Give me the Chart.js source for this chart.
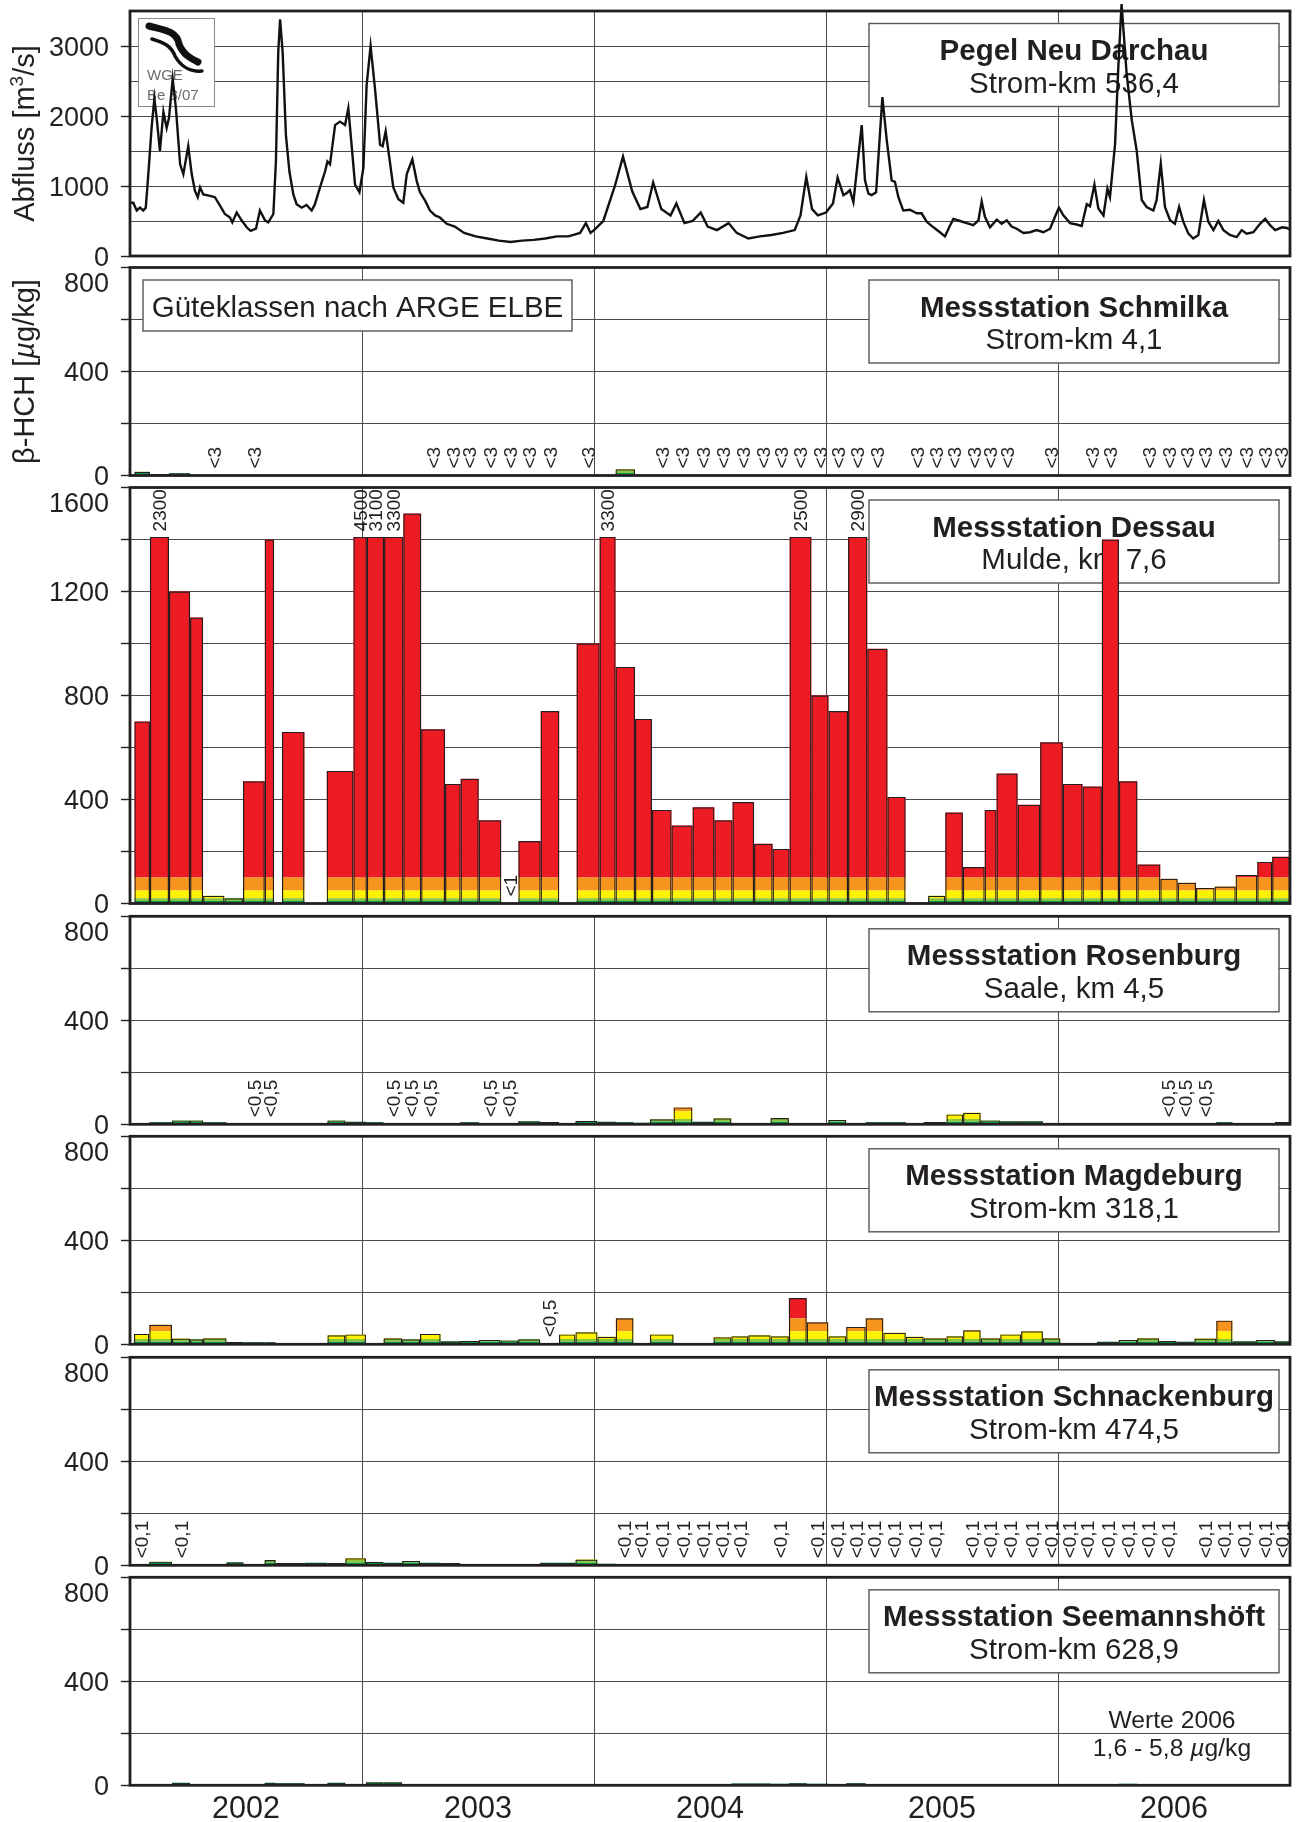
<!DOCTYPE html>
<html>
<head>
<meta charset="utf-8">
<script src="https://cdn.jsdelivr.net/npm/chart.js@4.4.1/dist/chart.umd.min.js"></script>
<style>
  html, body { margin: 0; padding: 0; background: #fff; }
  #wrap { position: relative; width: 1300px; height: 1822px; overflow: hidden; background: #fff; }
  #wrap canvas { position: absolute; left: 0; }
</style>
</head>
<body>
<div id="wrap"></div>
<script>
// discharge Neu Darchau, m3/s
const flowYears = [
  2002.000, 2002.014, 2002.029, 2002.043, 2002.057, 2002.068, 2002.079, 2002.093, 2002.105, 2002.115,
  2002.129, 2002.144, 2002.158, 2002.168, 2002.184, 2002.198, 2002.216, 2002.230, 2002.251, 2002.266,
  2002.280, 2002.292, 2002.302, 2002.316, 2002.345, 2002.366, 2002.388, 2002.409, 2002.431, 2002.441,
  2002.460, 2002.481, 2002.503, 2002.520, 2002.543, 2002.560, 2002.582, 2002.596, 2002.618, 2002.629,
  2002.639, 2002.647, 2002.658, 2002.672, 2002.687, 2002.704, 2002.718, 2002.740, 2002.761, 2002.783,
  2002.797, 2002.819, 2002.841, 2002.851, 2002.862, 2002.884, 2002.905, 2002.927, 2002.941, 2002.955,
  2002.970, 2002.989, 2003.006, 2003.020, 2003.037, 2003.056, 2003.078, 2003.089, 2003.102, 2003.118,
  2003.135, 2003.157, 2003.178, 2003.193, 2003.217, 2003.236, 2003.250, 2003.272, 2003.293, 2003.315,
  2003.336, 2003.365, 2003.400, 2003.440, 2003.490, 2003.540, 2003.590, 2003.640, 2003.690, 2003.740,
  2003.790, 2003.840, 2003.890, 2003.940, 2003.965, 2003.985, 2004.000, 2004.040, 2004.090, 2004.125,
  2004.165, 2004.200, 2004.230, 2004.255, 2004.290, 2004.330, 2004.355, 2004.390, 2004.425, 2004.460,
  2004.490, 2004.530, 2004.580, 2004.615, 2004.665, 2004.715, 2004.765, 2004.815, 2004.865, 2004.890,
  2004.915, 2004.940, 2004.965, 2005.000, 2005.030, 2005.050, 2005.075, 2005.090, 2005.103, 2005.118,
  2005.154, 2005.168, 2005.183, 2005.197, 2005.216, 2005.243, 2005.262, 2005.283, 2005.297, 2005.312,
  2005.333, 2005.362, 2005.391, 2005.412, 2005.434, 2005.463, 2005.491, 2005.513, 2005.531, 2005.549,
  2005.578, 2005.606, 2005.635, 2005.657, 2005.671, 2005.685, 2005.707, 2005.736, 2005.757, 2005.779,
  2005.800, 2005.822, 2005.851, 2005.879, 2005.908, 2005.937, 2005.966, 2005.987, 2006.004, 2006.023,
  2006.052, 2006.080, 2006.102, 2006.124, 2006.138, 2006.157, 2006.174, 2006.196, 2006.213, 2006.224,
  2006.246, 2006.260, 2006.274, 2006.296, 2006.318, 2006.339, 2006.361, 2006.382, 2006.411, 2006.425,
  2006.443, 2006.461, 2006.483, 2006.504, 2006.522, 2006.540, 2006.562, 2006.583, 2006.605, 2006.629,
  2006.648, 2006.670, 2006.691, 2006.713, 2006.741, 2006.770, 2006.792, 2006.813, 2006.842, 2006.871,
  2006.893, 2006.914, 2006.936, 2006.966, 2006.987, 2006.999
];
const flowValues = [
  760, 760, 650, 690, 650, 690, 1170, 1830, 2250, 1970,
  1500, 2060, 1830, 1970, 2530, 2110, 1310, 1170, 1570, 1170,
  930, 840, 980, 880, 860, 840, 720, 600, 550, 480,
  620, 510, 410, 360, 390, 650, 510, 480, 600, 1350,
  2910, 3380, 2910, 1730, 1210, 880, 740, 690, 730, 650,
  740, 980, 1210, 1350, 1310, 1870, 1920, 1870, 2110, 1590,
  1020, 910, 1260, 2440, 3000, 2390, 1590, 1570, 1780, 1400,
  980, 810, 760, 1170, 1380, 1070, 910, 790, 650, 580,
  550, 460, 420, 330, 280, 250, 220, 200, 220, 230,
  250, 280, 280, 330, 470, 330, 370, 500, 1000, 1420,
  920, 670, 700, 1050, 670, 580, 750, 470, 500, 620,
  420, 370, 470, 330, 250, 280, 300, 330, 370, 580,
  1130, 670, 580, 620, 750, 1120, 870, 900, 940, 770,
  1870, 1080, 890, 870, 910, 2270, 1650, 1080, 1060, 840,
  650, 660, 610, 610, 490, 410, 340, 280, 410, 530,
  500, 470, 440, 510, 780, 560, 410, 520, 460, 510,
  420, 390, 330, 340, 370, 340, 390, 560, 690, 580,
  470, 450, 430, 740, 710, 1020, 680, 580, 960, 840,
  1600, 2700, 3600, 2600, 1940, 1510, 800, 700, 650, 800,
  1320, 700, 510, 460, 700, 490, 320, 250, 300, 800,
  490, 370, 500, 370, 300, 270, 370, 320, 340, 460,
  530, 440, 370, 410, 400, 380
];

// Guteklassen nach ARGE ELBE for beta-HCH (ug/kg): class limits and colours I ... IV
const classLimits = [2, 5, 10, 20, 50, 100];
const classColors = ['#0a6fb5', '#0e7a83', '#009a49', '#8cc63e', '#fff200', '#f7941d', '#ed1c24'];

// sampling periods (decimal years), Schmilka + Dessau
const edgesA = [
  2002.019, 2002.086, 2002.168, 2002.259, 2002.315, 2002.407, 2002.487, 2002.581, 2002.621, 2002.655,
  2002.752, 2002.848, 2002.963, 2003.021, 2003.095, 2003.178, 2003.255, 2003.358, 2003.425, 2003.503,
  2003.600, 2003.674, 2003.770, 2003.850, 2003.925, 2004.024, 2004.093, 2004.177, 2004.250, 2004.334,
  2004.425, 2004.519, 2004.597, 2004.690, 2004.770, 2004.843, 2004.937, 2005.011, 2005.095, 2005.178,
  2005.265, 2005.343, 2005.440, 2005.514, 2005.590, 2005.684, 2005.735, 2005.826, 2005.923, 2006.021,
  2006.106, 2006.189, 2006.263, 2006.342, 2006.441, 2006.516, 2006.595, 2006.675, 2006.766, 2006.859,
  2006.923, 2007.000
];
// sampling periods, Rosenburg, Magdeburg, Schnackenburg, Seemannshoeft
const edgesB = [
  2002.017, 2002.083, 2002.181, 2002.259, 2002.315, 2002.416, 2002.489, 2002.580, 2002.628, 2002.753,
  2002.851, 2002.928, 2003.017, 2003.093, 2003.173, 2003.250, 2003.339, 2003.423, 2003.504, 2003.597,
  2003.673, 2003.768, 2003.849, 2003.920, 2004.015, 2004.094, 2004.170, 2004.241, 2004.343, 2004.424,
  2004.515, 2004.592, 2004.665, 2004.761, 2004.840, 2004.917, 2005.010, 2005.087, 2005.171, 2005.247,
  2005.344, 2005.421, 2005.519, 2005.591, 2005.667, 2005.751, 2005.841, 2005.935, 2006.010, 2006.086,
  2006.168, 2006.261, 2006.341, 2006.436, 2006.511, 2006.588, 2006.682, 2006.752, 2006.854, 2006.935,
  2007.000
];

// beta-HCH, ug/kg per period; text = below detection limit, null = no sample
const schmilka = [
  14, 5, 9, 2, '<3', 2, '<3', null, null, null,
  null, null, null, null, null, null, '<3', '<3', '<3', '<3',
  '<3', '<3', '<3', null, '<3', null, 24, null, '<3', '<3',
  '<3', '<3', '<3', '<3', '<3', '<3', '<3', '<3', '<3', '<3',
  null, '<3', '<3', '<3', '<3', '<3', '<3', null, '<3', null,
  '<3', '<3', null, '<3', '<3', '<3', '<3', '<3', '<3', '<3', '<3'
];
const dessau = [
  700, 2300, 1200, 1100, 30, 20, 470, 1400, null, 660,
  null, 510, 4500, 3100, 3300, 1500, 670, 460, 480, 320,
  '<1', 240, 740, null, 1000, 3300, 910, 710, 360, 300,
  370, 320, 390, 230, 210, 2500, 800, 740, 2900, 980,
  410, 3, 30, 350, 140, 360, 500, 380, 620, 460,
  450, 1400, 470, 150, 95, 80, 60, 65, 110, 160,
  180
];
const rosenburg = [
  2, 8, 15, 15, 8, 2, '<0,5', '<0,5', 1, 1,
  15, 10, 8, '<0,5', '<0,5', '<0,5', 4, 8, '<0,5', '<0,5',
  12, 9, 3, 13, 10, 8, 6, 19, 65, 10,
  23, 1, 1, 24, 1, 1, 17, 4, 8, 8,
  1, 9, 38, 44, 15, 12, 12, 5, 1, 1,
  null, null, null, '<0,5', '<0,5', '<0,5', 8, 5, 5, 9
];
const magdeburg = [
  40, 75, 22, 19, 23, 9, 8, 8, 3, 4,
  35, 38, 5, 23, 19, 40, 12, 13, 17, 15,
  19, '<0,5', 38, 46, 29, 100, 4, 38, null, null,
  27, 31, 35, 31, 178, 85, 31, 67, 100, 44,
  29, 23, 31, 54, 23, 38, 50, 23, null, null,
  10, 17, 23, 13, 10, 22, 91, 12, 17, 12
];
const schnackenburg = [
  '<0,1', 14, '<0,1', 5, 5, 12, 2, 20, 9, 10,
  9, 27, 13, 10, 17, 10, 9, null, null, null,
  1, 10, 10, 22, 6, '<0,1', '<0,1', '<0,1', '<0,1', '<0,1',
  '<0,1', '<0,1', null, '<0,1', null, '<0,1', '<0,1', '<0,1', '<0,1', '<0,1',
  '<0,1', '<0,1', null, '<0,1', '<0,1', '<0,1', '<0,1', '<0,1', '<0,1', '<0,1',
  '<0,1', '<0,1', '<0,1', '<0,1', null, '<0,1', '<0,1', '<0,1', '<0,1', '<0,1'
];
const seemannshoeft = [
  null, null, 10, null, null, null, null, 10, 8, null,
  10, null, 12, 12, null, null, null, null, null, null,
  null, null, null, null, null, null, null, null, null, null,
  5, 7, 7, 6, 8, 6, null, 8, null, null,
  4, 4, null, null, null, null, null, null, null, null,
  4, 6, null, null, null, null, null, null, null, null
];

const yearLabels = ['2002', '2003', '2004', '2005', '2006'];

const FONT = '"Liberation Sans", Arial, Helvetica, sans-serif';
const INK = '#231f20';
const LEFT = 130, RIGHT = 1290;

// panel frames on the page (pixels)
const layout = [
  {top: 11, bottom: 256},
  {top: 267.5, bottom: 475.5},
  {top: 487.5, bottom: 903.5},
  {top: 916.3, bottom: 1124.3},
  {top: 1136.3, bottom: 1344.3},
  {top: 1357.3, bottom: 1565.3},
  {top: 1577.3, bottom: 1785.3}
];

// bars spanning a sample period, drawn through the x scale
class SpanBar extends Chart.BarController {
  _calculateBarIndexPixels(index) {
    const raw = this.getDataset().data[index];
    const sc = this._cachedMeta.iScale;
    const base = sc.getPixelForValue(raw.x0);
    const head = sc.getPixelForValue(raw.x1);
    return {base, head, center: (base + head) / 2, size: head - base};
  }
}
SpanBar.id = 'spanbar';
SpanBar.defaults = Chart.BarController.defaults;
Chart.register(SpanBar);

function richText(ctx, parts, x, y) {
  let total = 0;
  for (const p of parts) { ctx.font = p[1]; total += ctx.measureText(p[0]).width; }
  let cx = x - total / 2;
  ctx.textAlign = 'left';
  for (const p of parts) {
    ctx.font = p[1];
    ctx.fillText(p[0], cx, y + (p[2] || 0));
    cx += ctx.measureText(p[0]).width;
  }
}

function drawLogo(ctx, a) {
  const x = 138, y = a.top + 7;
  ctx.fillStyle = '#fff';
  ctx.fillRect(x, y, 76, 88);
  ctx.strokeStyle = '#8a8a8a'; ctx.lineWidth = 1;
  ctx.strokeRect(x + 0.5, y + 0.5, 76, 88);
  ctx.strokeStyle = '#111'; ctx.lineCap = 'round';
  ctx.lineWidth = 7;
  ctx.beginPath();
  ctx.moveTo(149, y + 8);
  ctx.bezierCurveTo(164, y + 12, 177, y + 13, 179, y + 26);
  ctx.bezierCurveTo(183, y + 37, 192, y + 41, 198, y + 44);
  ctx.stroke();
  ctx.lineWidth = 3.5;
  ctx.beginPath();
  ctx.moveTo(152, y + 21);
  ctx.bezierCurveTo(165, y + 25, 171, y + 28, 175, y + 38);
  ctx.bezierCurveTo(181, y + 49, 191, y + 54, 202, y + 53);
  ctx.stroke();
  ctx.fillStyle = '#6d6d6d';
  ctx.font = '15px ' + FONT; ctx.textAlign = 'left'; ctx.textBaseline = 'alphabetic';
  ctx.fillText('WGE', 147, y + 62);
  ctx.fillText('Be 8/07', 147, y + 82);
}

const panelPlugin = {
  id: 'panel',
  beforeDatasetsDraw(chart, args, o) {
    const ctx = chart.ctx, a = chart.chartArea;
    ctx.save();
    ctx.textBaseline = 'alphabetic';
    if (o.logo) drawLogo(ctx, a);
    if (o.guete) {
      ctx.fillStyle = '#fff';
      ctx.fillRect(a.left + 13, a.top + 12.5, 429, 51);
      ctx.strokeStyle = '#555'; ctx.lineWidth = 1.4;
      ctx.strokeRect(a.left + 13, a.top + 12.5, 429, 51);
      ctx.fillStyle = INK; ctx.font = '29.5px ' + FONT; ctx.textAlign = 'center';
      ctx.fillText('Güteklassen nach ARGE ELBE', a.left + 227.5, a.top + 49);
    }
    if (o.title) {
      const bx = 869, by = a.top + 12.5;
      ctx.fillStyle = '#fff';
      ctx.fillRect(bx, by, 410, 83);
      ctx.strokeStyle = '#555'; ctx.lineWidth = 1.4;
      ctx.strokeRect(bx, by, 410, 83);
      ctx.fillStyle = INK; ctx.textAlign = 'center';
      ctx.font = 'bold 29.5px ' + FONT;
      ctx.fillText(o.title[0], bx + 205, by + 36.5);
      ctx.font = '29.5px ' + FONT;
      ctx.fillText(o.title[1], bx + 205, by + 69);
    }
    if (o.note) {
      ctx.fillStyle = INK;
      ctx.font = '24.7px ' + FONT; ctx.textAlign = 'center';
      ctx.fillText('Werte 2006', 1172, a.bottom - 57);
      richText(ctx, [['1,6 - 5,8 ', '24.7px ' + FONT], ['µ', 'italic 24.7px ' + FONT], ['g/kg', '24.7px ' + FONT]], 1172, a.bottom - 29);
    }
    ctx.restore();
  },
  afterDatasetsDraw(chart, args, o) {
    const ctx = chart.ctx, a = chart.chartArea;
    const xs = chart.scales.x, ys = chart.scales.y;
    ctx.save();
    ctx.strokeStyle = INK; ctx.lineWidth = 2.8;
    ctx.strokeRect(a.left, a.top, a.right - a.left, a.bottom - a.top);
    ctx.fillStyle = INK;
    ctx.textBaseline = 'alphabetic';
    ctx.font = '27px ' + FONT; ctx.textAlign = 'right';
    for (const v of o.yLabels || []) {
      let py = ys.getPixelForValue(v) + 9.7;
      if (v === ys.max) py += 15;
      ctx.fillText(String(v), 109, py);
    }
    ctx.font = '19px ' + FONT; ctx.textAlign = 'left';
    for (const m of o.marks || []) {
      const px = xs.getPixelForValue(m.x) + 6.8;
      const py = m.top !== undefined ? ys.getPixelForValue(m.top) - 5.5 : ys.getPixelForValue(0) - 7;
      ctx.save();
      ctx.translate(px, py);
      ctx.rotate(-Math.PI / 2);
      ctx.fillText(m.text, 0, 0);
      ctx.restore();
    }
    if (o.axisTitle) {
      ctx.save();
      ctx.translate(34, (a.top + a.bottom) / 2);
      ctx.rotate(-Math.PI / 2);
      const f = '29px ' + FONT;
      if (o.axisTitle === 'flow') {
        richText(ctx, [['Abfluss [m', f], ['3', '19px ' + FONT, -11], ['/s]', f]], 0, 0);
      } else {
        richText(ctx, [['β-HCH [', f], ['µ', 'italic ' + f], ['g/kg]', f]], 0, 0);
      }
      ctx.restore();
    }
    if (o.years) {
      ctx.font = '30.5px ' + FONT; ctx.textAlign = 'center';
      for (const yr of yearLabels) {
        ctx.fillText(yr, xs.getPixelForValue(Number(yr) + 0.5), a.bottom + 33);
      }
    }
    ctx.restore();
  }
};
Chart.register(panelPlugin);

function xScale() {
  const bounds = yearLabels.map(Number).concat(Number(yearLabels[yearLabels.length - 1]) + 1);
  return {
    type: 'linear', min: bounds[0], max: bounds[bounds.length - 1], offset: false,
    afterBuildTicks: s => { s.ticks = bounds.map(v => ({value: v})); },
    afterFit: s => { s.height = 0; },
    ticks: {display: false},
    grid: {color: '#4a4a4a', lineWidth: 1, drawTicks: false, offset: false},
    border: {display: false}
  };
}

function yScale(max, step, tickAt, stacked) {
  return {
    type: 'linear', min: 0, max: max, stacked: stacked,
    afterFit: s => { s.width = 9; },
    ticks: {display: false, stepSize: step},
    grid: {
      color: '#4a4a4a', lineWidth: 1, drawTicks: true, tickLength: 9, tickWidth: 1.4,
      tickColor: c => (!tickAt || tickAt.includes(c.tick.value)) ? INK : 'rgba(0,0,0,0)'
    },
    border: {display: false}
  };
}

function makeCanvas(i) {
  const L = layout[i];
  const cTop = Math.max(0, Math.floor(L.top) - 12);
  const cBot = i === layout.length - 1 ? 1822 : Math.ceil(L.bottom) + 12;
  const c = document.createElement('canvas');
  c.width = 1300; c.height = cBot - cTop;
  c.style.top = cTop + 'px';
  c.style.width = '1300px'; c.style.height = (cBot - cTop) + 'px';
  document.getElementById('wrap').appendChild(c);
  return {canvas: c, padding: {left: LEFT - 9, right: 1300 - RIGHT, top: L.top - cTop, bottom: cBot - L.bottom}};
}

function baseOptions(padding, scales, panelOpts) {
  return {
    responsive: false, maintainAspectRatio: false, animation: false, devicePixelRatio: 1, events: [],
    layout: {padding: padding},
    scales: scales,
    plugins: {legend: {display: false}, tooltip: {enabled: false}, panel: panelOpts}
  };
}

// panel 1: discharge
(function () {
  const c = makeCanvas(0);
  new Chart(c.canvas, {
    type: 'line',
    data: {datasets: [{
      data: flowYears.map((x, i) => ({x: x, y: flowValues[i]})),
      borderColor: '#111', borderWidth: 2.4, pointRadius: 0, tension: 0, fill: false, clip: false
    }]},
    options: baseOptions(c.padding,
      {x: xScale(), y: yScale(3500, 500, [0, 1000, 2000, 3000], false)},
      {yLabels: [0, 1000, 2000, 3000], title: ['Pegel Neu Darchau', 'Strom-km 536,4'], logo: true, axisTitle: 'flow'})
  });
})();

function classSegments(v) {
  const segs = [];
  let lo = 0;
  for (let k = 0; k < classColors.length; k++) {
    const hi = k < classLimits.length ? classLimits[k] : Infinity;
    segs.push(Math.max(0, Math.min(v, hi) - lo));
    lo = hi;
  }
  return segs;
}

function barPanel(index, values, edges, max, title, extra) {
  const c = makeCanvas(index);
  const cap = extra.cap;
  const outline = [], layers = classColors.map(() => []), marks = [];
  values.forEach((v, i) => {
    const x0 = edges[i], x1 = edges[i + 1], x = (x0 + x1) / 2;
    if (typeof v === 'string') { marks.push({x: x, text: v}); return; }
    if (typeof v !== 'number') return;
    const h = v > max ? cap : v;
    if (v > max) marks.push({x: x, text: String(v), top: cap});
    outline.push({x: x, y: h, x0: x0, x1: x1});
    classSegments(h).forEach((s, k) => layers[k].push({x: x, y: s, x0: x0, x1: x1}));
  });
  const datasets = [{data: outline, stack: 'outline', backgroundColor: 'rgba(0,0,0,0)',
    borderColor: INK, borderWidth: 1.2, borderSkipped: 'start'}]
    .concat(layers.map((d, k) => ({data: d, stack: 'classes', backgroundColor: classColors[k], borderWidth: 0})));
  const labels = max === 1600 ? [0, 400, 800, 1200, 1600] : [0, 400, 800];
  new Chart(c.canvas, {
    type: 'spanbar',
    data: {datasets: datasets},
    options: baseOptions(c.padding,
      {x: xScale(), y: yScale(max, 200, null, true)},
      Object.assign({yLabels: labels, title: title, marks: marks}, extra))
  });
}

barPanel(1, schmilka, edgesA, 800, ['Messstation Schmilka', 'Strom-km 4,1'], {guete: true, axisTitle: 'hch'});
barPanel(2, dessau, edgesA, 1600, ['Messstation Dessau', 'Mulde, km 7,6'], {cap: 1410});
barPanel(3, rosenburg, edgesB, 800, ['Messstation Rosenburg', 'Saale, km 4,5'], {});
barPanel(4, magdeburg, edgesB, 800, ['Messstation Magdeburg', 'Strom-km 318,1'], {});
barPanel(5, schnackenburg, edgesB, 800, ['Messstation Schnackenburg', 'Strom-km 474,5'], {});
barPanel(6, seemannshoeft, edgesB, 800, ['Messstation Seemannshöft', 'Strom-km 628,9'], {note: true, years: true});
</script>
</body>
</html>
